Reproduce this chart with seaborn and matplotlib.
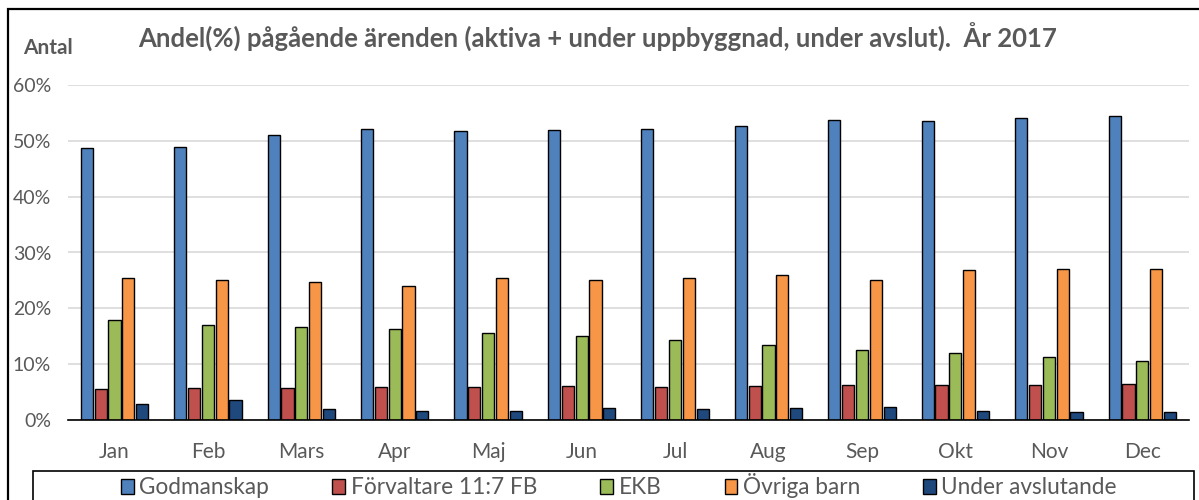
import numpy as np
import matplotlib.pyplot as plt
import matplotlib.patches as mpatches
import pandas as pd
import seaborn as sb

months = ['Jan', 'Feb', 'Mars', 'Apr', 'Maj', 'Jun', 'Jul', 'Aug', 'Sep', 'Okt', 'Nov', 'Dec']
series = ['Godmanskap', 'Förvaltare 11:7 FB', 'EKB', 'Övriga barn', 'Under avslutande']

godmanskap = [48.7, 48.9, 51.0, 52.2, 51.7, 51.9, 52.2, 52.6, 53.7, 53.5, 54.0, 54.4]
forvaltare = [5.5, 5.7, 5.8, 6.0, 6.0, 6.1, 6.0, 6.1, 6.3, 6.2, 6.2, 6.4]
ekb = [17.9, 17.1, 16.7, 16.3, 15.6, 15.1, 14.4, 13.4, 12.6, 12.0, 11.3, 10.5]
ovriga = [25.4, 25.0, 24.8, 24.0, 25.4, 25.0, 25.4, 25.9, 25.0, 26.8, 27.1, 27.1]
under = [2.9, 3.5, 1.9, 1.7, 1.6, 2.1, 2.0, 2.1, 2.4, 1.6, 1.4, 1.5]

colors = ['#4F81BD', '#C0504D', '#9BBB59', '#F79646', '#1F497D']
grey = '#595959'

df = pd.DataFrame({
    'month': months * 5,
    'serie': [s for s in series for _ in months],
    'value': godmanskap + forvaltare + ekb + ovriga + under,
})

sb.set_theme(style='white')
plt.rcParams['font.family'] = ['Lato', 'DejaVu Sans']

fig = plt.figure(figsize=(11.99, 5.0), dpi=100)
ax = fig.add_axes([67.7 / 1199, 80 / 500, (1189 - 67.7) / 1199, 335 / 500])

sb.barplot(data=df, x='month', y='value', hue='serie', order=months, hue_order=series,
           palette=colors, saturation=1, width=0.74, gap=0.12, edgecolor='black',
           linewidth=1, legend=False, ax=ax)

ax.set_ylim(0, 60)
ax.set_xlim(-0.5, 11.5)
ax.set_yticks(np.arange(0, 61, 10))
ax.set_yticklabels([f'{v}%' for v in range(0, 61, 10)], color=grey, fontsize=14)
ax.tick_params(axis='y', length=0, pad=12)
ax.set_xticks(range(12))
ax.set_xticklabels(months, color=grey, fontsize=15)
ax.tick_params(axis='x', which='major', length=0, pad=16)
ax.set_xticks(np.arange(-0.5, 12, 1), minor=True)
ax.tick_params(axis='x', which='minor', length=6, width=1.2, color='black', direction='out')
ax.yaxis.grid(True, color='#D9D9D9', linewidth=1.2)
ax.set_axisbelow(True)
for s in ['top', 'right', 'left']:
    ax.spines[s].set_visible(False)
ax.spines['bottom'].set_color('black')
ax.spines['bottom'].set_linewidth(1.2)
ax.set_xlabel('')
ax.set_ylabel('')

fig.text(598 / 1199, 1 - 37 / 500, 'Andel(%) pågående ärenden (aktiva + under uppbyggnad, under avslut).  År 2017',
         ha='center', va='center', fontsize=18.5, fontweight='bold', color=grey)
fig.text(23 / 1199, 1 - 48 / 500, 'Antal', ha='left', va='center', fontsize=15,
         fontweight='bold', color=grey)

# legend entries, box drawn separately
handles = [mpatches.Patch(facecolor=c, edgecolor='black', label=s) for c, s in zip(colors, series)]
leg = fig.legend(handles=handles, loc='center', ncol=5,
                 bbox_to_anchor=(619 / 1199, 1 - 486 / 500),
                 frameon=False, fontsize=16.3, handlelength=0.55, handleheight=0.6,
                 handletextpad=0.25, columnspacing=2.8, borderaxespad=0, borderpad=0)
for t in leg.get_texts():
    t.set_color(grey)

fig.patches.append(mpatches.Rectangle((33 / 1199, -0.1), (1194 - 33) / 1199, 0.1 + 1 - 471 / 500,
                                      transform=fig.transFigure, fill=False,
                                      edgecolor='black', linewidth=1.2, figure=fig))
fig.patches.append(mpatches.Rectangle((8 / 1199, -0.1), 1.2, 1.1 - 9.3 / 500,
                                      transform=fig.transFigure, fill=False,
                                      edgecolor='black', linewidth=1.6, figure=fig))

fig.savefig('out.png', dpi=100)
